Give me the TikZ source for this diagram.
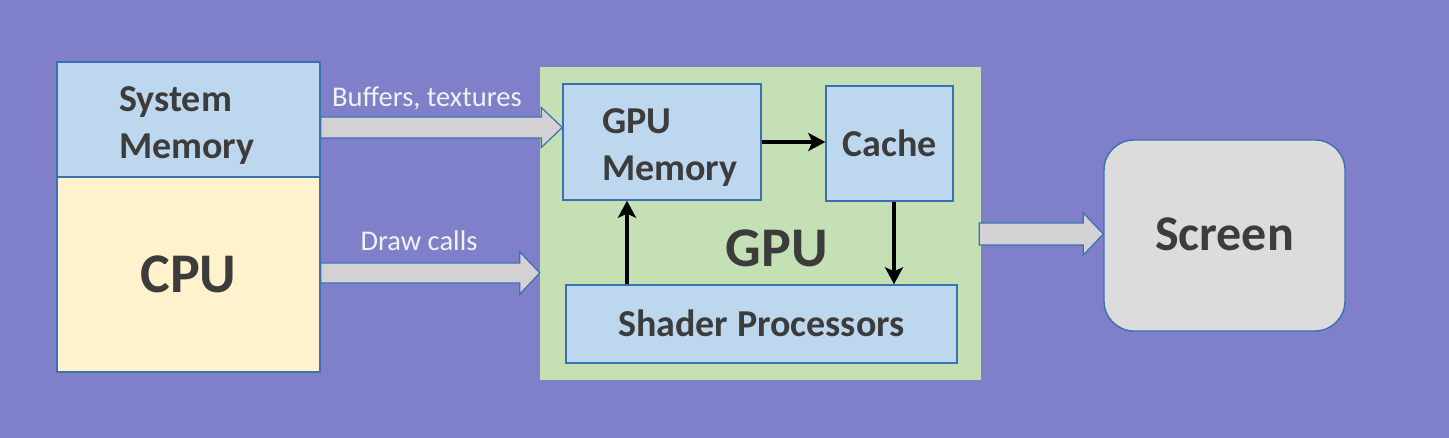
\documentclass[tikz,border=0pt]{standalone}
\usepackage{fontspec}
\setmainfont{Carlito}
\usetikzlibrary{calc,arrows.meta}
\definecolor{bg}{HTML}{7F7FCA}
\definecolor{boxblue}{HTML}{BDD7EE}
\definecolor{boxline}{HTML}{3A72B0}
\definecolor{cpufill}{HTML}{FFF2CC}
\definecolor{gpufill}{HTML}{C5E0B4}
\definecolor{scrfill}{HTML}{DCDCDC}
\definecolor{arrfill}{HTML}{D3D1D4}
\definecolor{txt}{HTML}{3C3C3C}
\definecolor{lbl}{HTML}{F2F2F2}
\newcommand\blkarrow[5]{%
  \filldraw[blockarrow] ($(#1)+(0,-#3)$) -- ($(#2)+(-#5,-#3)$) -- ($(#2)+(-#5,-#4)$) -- (#2)
    -- ($(#2)+(-#5,#4)$) -- ($(#2)+(-#5,#3)$) -- ($(#1)+(0,#3)$) -- cycle;}
\begin{document}
\begin{tikzpicture}[x=1pt,y=-1pt,
  box/.style={draw=boxline, line width=1.4pt, inner sep=0pt, text=txt, font=\bfseries\fontsize{38}{47}\selectfont},
  blockarrow/.style={fill=arrfill, draw=boxline, line width=1.2pt, line join=miter},
  blk/.style={line width=3.5pt, draw=black, -{Stealth[length=17pt,width=18pt,inset=4pt]}},
  boxtext/.style={text=txt, font=\bfseries\fontsize{38}{47}\selectfont, inner sep=0pt, align=left},
  lbltext/.style={text=lbl, font=\fontsize{28.5}{32}\selectfont, inner sep=0pt}]
\useasboundingbox (0,0) rectangle (1449,438);
\fill[bg] (0,0) rectangle (1449,438);

% CPU side
\node[box, fill=boxblue, minimum width=263pt, minimum height=115pt] (sysmem) at (188.5,119.5) {};
\node[box, fill=cpufill, minimum width=263pt, minimum height=195pt,
      font=\bfseries\fontsize{56}{60}\selectfont] (cpu) at (188.5,274.5) {\raisebox{-1pt}{CPU}};
\node[boxtext, anchor=west] (sysmemtext) at (119,126) {System\\Memory};

% GPU
\node[fill=gpufill, minimum width=441pt, minimum height=313pt, inner sep=0pt] (gpu) at (760.5,223.5) {};
\node[box, fill=boxblue, minimum width=198pt, minimum height=116pt] (gpumem) at (662,142) {};
\node[boxtext, anchor=west] (gpumemtext) at (602,148) {GPU\\Memory};
\node[box, fill=boxblue, minimum width=127pt, minimum height=115pt] (cache) at (889.5,143.5) {\raisebox{1pt}{Cache}};
\node[box, fill=boxblue, minimum width=391pt, minimum height=78pt] (shader) at (761.5,324) {\raisebox{1pt}{Shader Processors}};
\node[text=txt, font=\bfseries\fontsize{56}{60}\selectfont, inner sep=0pt] (gputext) at (777,248) {GPU};

% Screen
\node[box, fill=scrfill, rounded corners=30pt, minimum width=241pt, minimum height=191pt,
      font=\bfseries\fontsize{50}{56}\selectfont] (screen) at (1224.5,235.5) {\raisebox{3pt}{Screen}};

% internal arrows
\coordinate (upx) at (627,0);
\coordinate (dnx) at (894,0);
\draw[blk] (gpumem.east) -- (cache.west |- gpumem.east);
\draw[blk] (shader.north -| upx) -- (gpumem.south -| upx);
\draw[blk] (cache.south -| dnx) -- (shader.north -| dnx);

% block arrows
\coordinate (b1y) at (0,127.5);
\coordinate (b1s) at (sysmem.east |- b1y);
\coordinate (b1t) at (gpumem.west |- b1y);
\blkarrow{b1s}{b1t}{10.5}{20}{21}
\node[lbltext, anchor=base] (buflbl) at (427,107) {Buffers, textures};

\coordinate (b2y) at (0,273);
\coordinate (b2s) at (cpu.east |- b2y);
\coordinate (b2t) at (gpu.west |- b2y);
\blkarrow{b2s}{b2t}{10}{21}{20}
\node[lbltext, anchor=base] (drawlbl) at (419,251) {Draw calls};

\coordinate (b3y) at (0,234);
\coordinate (b3s) at ($(gpu.east |- b3y)+(-2,0)$);
\coordinate (b3t) at (screen.west |- b3y);
\blkarrow{b3s}{b3t}{11}{21}{20}
\end{tikzpicture}
\end{document}
